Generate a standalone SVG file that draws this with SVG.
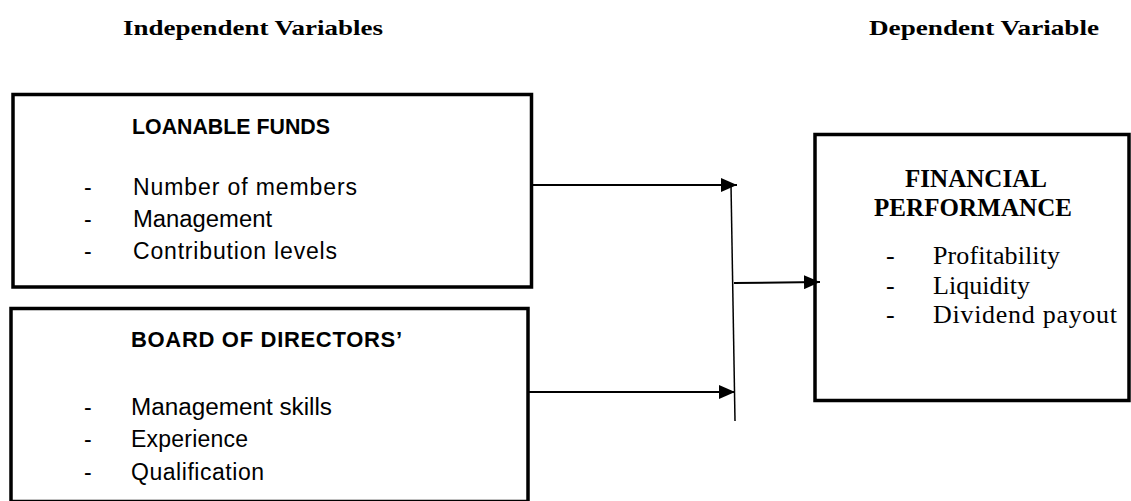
<svg xmlns="http://www.w3.org/2000/svg" width="1131" height="501" viewBox="0 0 1131 501">
  <style>
    .box { fill: #ffffff; stroke: #000000; stroke-width: 3.5; }
    .hdr { font-family: "Liberation Serif", "Times New Roman", serif; font-weight: bold; font-size: 22px; fill: #000; }
    .ttl { font-family: "Liberation Sans", Arial, sans-serif; font-weight: bold; font-size: 22px; fill: #000; }
    .itm { font-family: "Liberation Sans", Arial, sans-serif; font-size: 23px; fill: #000; }
    .rttl { font-family: "Liberation Serif", "Times New Roman", serif; font-weight: bold; font-size: 25px; fill: #000; }
    .ritm { font-family: "Liberation Serif", "Times New Roman", serif; font-size: 26px; fill: #000; }
    .conn { fill: none; stroke: #000000; stroke-width: 2; }
    .thin { fill: none; stroke: #000000; stroke-width: 1.5; }
  </style>
  <defs>
    <marker id="arrow" markerUnits="userSpaceOnUse" markerWidth="16" markerHeight="14" refX="16" refY="7" orient="auto">
      <path d="M0,0 L16,7 L0,14 Z" fill="#000000"/>
    </marker>
  </defs>
  <rect width="1131" height="501" fill="#ffffff"/>

  <g id="headers">
    <text class="hdr" x="123" y="35" textLength="260" lengthAdjust="spacingAndGlyphs">Independent Variables</text>
    <text class="hdr" x="869" y="35" textLength="230" lengthAdjust="spacingAndGlyphs">Dependent Variable</text>
  </g>

  <g id="loanable-funds">
    <rect class="box" x="13" y="94.5" width="518.5" height="192.5"/>
    <text class="ttl" x="132" y="134" textLength="198" lengthAdjust="spacingAndGlyphs">LOANABLE FUNDS</text>
    <text class="itm" x="84" y="195">-</text>
    <text class="itm" x="133" y="195" textLength="224">Number of members</text>
    <text class="itm" x="84" y="227">-</text>
    <text class="itm" x="133" y="227" textLength="139" lengthAdjust="spacingAndGlyphs">Management</text>
    <text class="itm" x="84" y="259">-</text>
    <text class="itm" x="133" y="259" textLength="204">Contribution levels</text>
  </g>

  <g id="board-of-directors">
    <rect class="box" x="11" y="308.5" width="517" height="193"/>
    <text class="ttl" x="131" y="347" textLength="271">BOARD OF DIRECTORS’</text>
    <text class="itm" x="84" y="415">-</text>
    <text class="itm" x="131" y="415" textLength="201" lengthAdjust="spacingAndGlyphs">Management skills</text>
    <text class="itm" x="84" y="447">-</text>
    <text class="itm" x="131" y="447" textLength="117">Experience</text>
    <text class="itm" x="84" y="480">-</text>
    <text class="itm" x="131" y="480" textLength="133">Qualification</text>
  </g>

  <g id="financial-performance">
    <rect class="box" x="815" y="134.5" width="314" height="266"/>
    <text class="rttl" x="905" y="187" textLength="142">FINANCIAL</text>
    <text class="rttl" x="874" y="216" textLength="198">PERFORMANCE</text>
    <text class="ritm" x="886" y="264">-</text>
    <text class="ritm" x="933" y="264" textLength="127">Profitability</text>
    <text class="ritm" x="886" y="294">-</text>
    <text class="ritm" x="933" y="294" textLength="97">Liquidity</text>
    <text class="ritm" x="886" y="323">-</text>
    <text class="ritm" x="933" y="323" textLength="184">Dividend payout</text>
  </g>

  <g id="connectors">
    <line class="conn" x1="531.5" y1="185" x2="737" y2="185" marker-end="url(#arrow)"/>
    <line class="conn" x1="528" y1="392" x2="735" y2="392" marker-end="url(#arrow)"/>
    <line class="thin" x1="731" y1="185" x2="735" y2="421"/>
    <line class="conn" x1="734" y1="283" x2="820" y2="282" marker-end="url(#arrow)"/>
  </g>
</svg>
